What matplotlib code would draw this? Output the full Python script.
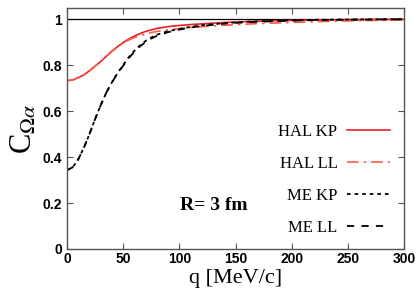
import matplotlib
matplotlib.use("Agg")
import matplotlib.pyplot as plt

q = [0, 5, 10, 15, 20, 25, 30, 35, 40, 45, 50, 55, 60, 65, 70, 75, 80, 90, 100,
     110, 120, 140, 160, 180, 200, 225, 250, 275, 300]
hal_kp = [0.732, 0.735, 0.745, 0.757, 0.775, 0.795, 0.815, 0.838, 0.860, 0.880, 0.898,
          0.913, 0.926, 0.937, 0.946, 0.953, 0.959, 0.967, 0.972, 0.976, 0.979, 0.985,
          0.989, 0.992, 0.994, 0.996, 0.997, 0.998, 0.999]
hal_ll = [0.732, 0.735, 0.745, 0.757, 0.775, 0.795, 0.815, 0.838, 0.860, 0.878, 0.895,
          0.909, 0.920, 0.928, 0.935, 0.941, 0.946, 0.953, 0.958, 0.963, 0.967, 0.973,
          0.978, 0.982, 0.985, 0.989, 0.992, 0.994, 0.996]
me_kp = [0.343, 0.355, 0.390, 0.440, 0.500, 0.565, 0.625, 0.680, 0.725, 0.765, 0.800,
         0.834, 0.862, 0.886, 0.905, 0.920, 0.932, 0.947, 0.957, 0.966, 0.973, 0.982,
         0.988, 0.992, 0.995, 0.997, 0.998, 0.999, 0.9995]
me_ll = [0.343, 0.355, 0.390, 0.440, 0.500, 0.565, 0.625, 0.680, 0.725, 0.763, 0.797,
         0.830, 0.858, 0.881, 0.900, 0.915, 0.927, 0.943, 0.954, 0.963, 0.970, 0.980,
         0.986, 0.990, 0.993, 0.996, 0.997, 0.998, 0.999]
labels = ["HAL KP", "HAL LL", "ME KP", "ME LL"]
xticks = [0, 50, 100, 150, 200, 250, 300]
yticks = [0, 0.2, 0.4, 0.6, 0.8, 1]
yticklabels = ["0", "0.2", "0.4", "0.6", "0.8", "1"]

plt.rcParams['mathtext.fontset'] = 'stix'

fig = plt.figure(figsize=(4.2, 2.94), dpi=100)
ax = fig.add_axes([67/420, 1-249/294, (404-67)/420, (249-8)/294])

ax.axhline(1.0, color='black', lw=0.9)
ax.plot(q, hal_kp, color='#e8202a', lw=1.2, label=labels[0])
ax.plot(q, hal_ll, color='#ff5a40', lw=1.2, ls=(0, (7, 3, 1.5, 3)), label=labels[1])
ax.plot(q, me_kp, color='black', lw=1.3, ls=(0, (2, 2.2)), label=labels[2])
ax.plot(q, me_ll, color='black', lw=1.3, ls=(0, (4, 4)), label=labels[3])

ax.set_xlim(0, 300)
ax.set_ylim(0, 1.048)
ax.set_xticks(xticks)
ax.set_yticks(yticks)
ax.set_yticklabels(yticklabels)
for lab in ax.get_xticklabels() + ax.get_yticklabels():
    lab.set_fontfamily('Liberation Sans')
    lab.set_fontweight('bold')
    lab.set_fontsize(10)
ax.tick_params(direction='in', length=4, width=0.8, top=True, right=True,
               color='#555555')
ax.tick_params(axis='y', pad=3.5)
ax.tick_params(axis='x', pad=2)
for s in ax.spines.values():
    s.set_color('#555555')
    s.set_linewidth(1.0)

ax.set_xlabel('q [MeV/c]', family='Liberation Serif', fontsize=16, labelpad=2)
ax.set_ylabel(r'C$_{\Omega\alpha}$', family='Liberation Serif', fontsize=22, labelpad=3)

ax.text(0.435, 1 - (205 - 8) / 241, 'R= 3 fm', transform=ax.transAxes,
        family='Liberation Serif', fontweight='bold', fontsize=14, ha='center', va='center')

leg = ax.legend(loc='upper right', bbox_to_anchor=(1 - 14/337, 1 - (124 - 8)/241),
                frameon=False, markerfirst=False, borderpad=0, borderaxespad=0,
                labelspacing=0.95, handlelength=2.6, handletextpad=0.55,
                prop={'family': 'Liberation Serif', 'size': 12})

fig.savefig('out.png', dpi=100)
